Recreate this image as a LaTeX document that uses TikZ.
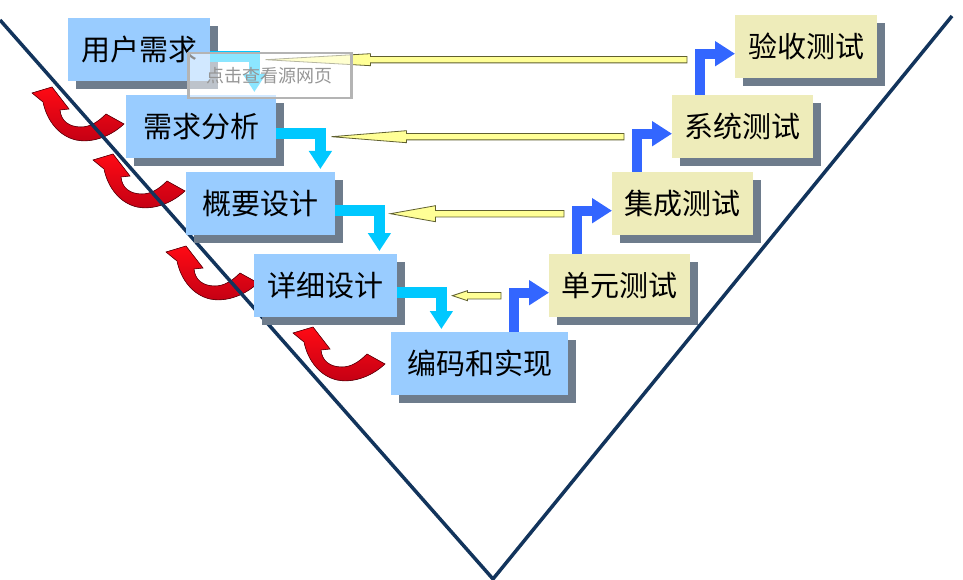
\documentclass[tikz,border=0pt]{standalone}
\usepackage{fontspec}
\setmainfont{Noto Sans CJK SC}
\usetikzlibrary{arrows.meta,shadows,calc}
\definecolor{vline}{RGB}{18,52,92}
\definecolor{planfill}{RGB}{153,204,255}
\definecolor{checkfill}{RGB}{238,236,186}
\definecolor{shadegrey}{RGB}{110,124,140}
\definecolor{fallcol}{RGB}{0,200,255}
\definecolor{risecol}{RGB}{51,102,255}
\definecolor{backfill}{RGB}{255,255,150}
\definecolor{backedge}{RGB}{96,96,48}
\definecolor{curlred}{RGB}{255,10,20}
\definecolor{curldark}{RGB}{195,0,20}
\definecolor{markedge}{RGB}{180,180,180}
\definecolor{marktext}{RGB}{150,150,150}
\tikzset{
  stage/.style={anchor=north west, inner sep=0pt, minimum height=63pt,
    font=\fontsize{29}{29}\selectfont,
    drop shadow={shadow xshift=8pt, shadow yshift=-8pt, fill=shadegrey, opacity=1}},
  plan/.style={stage, fill=planfill},
  check/.style={stage, fill=checkfill},
  fall/.style={draw=fallcol, line width=11pt, -{Triangle[width=22pt,length=18pt]}, shorten >=3pt},
  rise/.style={draw=risecol, line width=10pt, -{Triangle[width=24pt,length=20pt]}},
  back/.style={fill=backfill, draw=backedge, line width=0.8pt},
  pics/curl/.style={code={
    \filldraw[top color=curlred, bottom color=curldark, draw=curldark!50!black, line width=0.6pt]
      (0,0) -- (20,-6) -- (37,16) -- (28,17)
      .. controls (29,28) and (37,34) .. (49,34)
      .. controls (58,34) and (66,29) .. (74,21) -- (92,31)
      .. controls (77,45) and (58,50) .. (44,47)
      .. controls (27,43) and (15,28) .. (11,9) -- cycle;}}
}
\newcommand\yback[5]{%
  \filldraw[back] let \p1=(#1), \p2=(#2), \p3=(#3) in
    (\x1-13pt,\y3+3.2pt) -- (\x2+11pt+#4,\y3+3.2pt) -- (\x2+11pt+#4,\y3+#5) -- (\x2+11pt,\y3)
    -- (\x2+11pt+#4,\y3-#5) -- (\x2+11pt+#4,\y3-3.2pt) -- (\x1-13pt,\y3-3.2pt) -- cycle;}
\begin{document}
\begin{tikzpicture}[x=1pt, y=-1pt]
\useasboundingbox (0,0) rectangle (963,580);
\foreach \x/\y in {32/93, 93/160, 166/252, 293/333}
  \pic at (\x,\y) {curl};
\draw[vline, line width=3.5pt] (0,20) -- (493,579) -- (952,16);

\node[plan, minimum width=142pt] (req) at (68,18) {用户需求};
\node[plan, minimum width=150pt] (ana) at (126,95) {需求分析};
\node[plan, minimum width=149pt] (arch) at (186,172) {概要设计};
\node[plan, minimum width=143pt] (det) at (254,254) {详细设计};
\node[plan, minimum width=177pt] (code) at (391,332) {编码和实现};
\node[check, minimum width=142pt] (acc) at (735,15) {验收测试};
\node[check, minimum width=141pt] (sys) at (672,95) {系统测试};
\node[check, minimum width=141pt] (integ) at (612,172) {集成测试};
\node[check, minimum width=141pt] (unit) at (549,254) {单元测试};

\coordinate (f1) at ([xshift=44pt]req.east);
\coordinate (f2) at ([xshift=44pt]ana.east);
\coordinate (f3) at ([xshift=44pt]arch.east);
\coordinate (f4) at ([xshift=44pt]det.east);
\coordinate (r1) at ([xshift=-35pt]unit.west);
\coordinate (r2) at ([xshift=-35pt]integ.west);
\coordinate (r3) at ([xshift=-35pt]sys.west);
\coordinate (r4) at ([xshift=-35pt]acc.west);
\coordinate (b1) at ([yshift=-10pt]req.east);
\coordinate (b2) at ([yshift=-10pt]ana.east);
\coordinate (b3) at ([yshift=-10pt]arch.east);
\coordinate (b4) at ([yshift=-10pt]det.east);

\draw[fall] ([yshift=-7pt]req.east) -| (f1 |- ana.north);
\draw[fall] ([yshift=-7pt]ana.east) -| (f2 |- arch.north);
\draw[fall] ([yshift=-7pt]arch.east) -| (f3 |- det.north);
\draw[fall] ([yshift=-7pt]det.east) -| (f4 |- code.north);

\draw[rise] (r1 |- code.north) |- ([yshift=-7pt]unit.west);
\draw[rise] (r2 |- unit.north) |- ([yshift=-7pt]integ.west);
\draw[rise] (r3 |- integ.north) |- ([yshift=-7pt]sys.west);
\draw[rise] (r4 |- sys.north) |- ([yshift=-7pt]acc.west);

\yback{r4}{f1}{b1}{105pt}{6pt}
\yback{r3}{f2}{b2}{75pt}{6pt}
\yback{r2}{f3}{b3}{45pt}{8pt}
\yback{r1}{f4}{b4}{15pt}{5pt}

\node[anchor=north west, draw=markedge, line width=2.5pt, fill=white, fill opacity=0.55,
  text opacity=1, text=marktext, minimum width=163pt, minimum height=45pt,
  font=\fontsize{18}{18}\selectfont] (mark) at (187,52) {点击查看源网页};
\end{tikzpicture}
\end{document}
